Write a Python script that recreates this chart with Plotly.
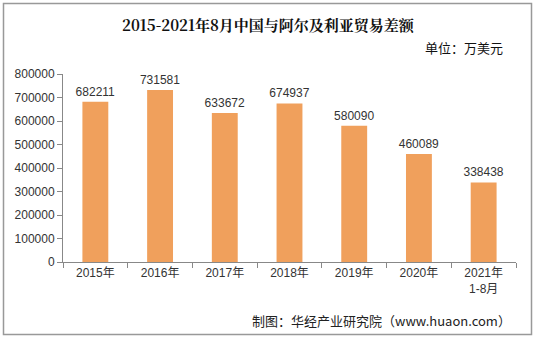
import plotly.graph_objects as go

categories = ["2015年", "2016年", "2017年", "2018年", "2019年", "2020年", "2021年<br>1-8月"]
values = [682211, 731581, 633672, 674937, 580090, 460089, 338438]
y_ticks = [0, 100000, 200000, 300000, 400000, 500000, 600000, 700000, 800000]

W, H = 535, 338
L, R, T, B = 63, 19, 74, 76
pw, ph = W - L - R, H - T - B

def px(x):
    return (x - L) / pw

def py(y):
    return (H - B - y) / ph

fig = go.Figure(go.Bar(
    x=categories, y=values,
    marker=dict(color="#F0A05C", line=dict(width=0)),
    width=0.4,
    text=[str(v) for v in values], textposition="outside",
    constraintext="none",
    textfont=dict(size=12, color="#333333", family="Liberation Sans, Arial"),
    cliponaxis=False,
))

fig.update_layout(
    width=W, height=H,
    margin=dict(l=L, r=R, t=T, b=B),
    paper_bgcolor="white", plot_bgcolor="white",
    showlegend=False,
    font=dict(family="Liberation Sans, Noto Sans CJK SC", size=12, color="#333333"),
    xaxis=dict(
        showline=True, linecolor="#888888", linewidth=1,
        ticks="outside", ticklen=5, tickcolor="#888888",
        tickson="boundaries", showgrid=False,
        tickfont=dict(size=12, color="#333333", family="Liberation Sans, Noto Sans CJK SC"),
    ),
    yaxis=dict(
        range=[0, 800000], tickvals=y_ticks, ticktext=[str(v) for v in y_ticks],
        showline=True, linecolor="#888888", linewidth=1,
        ticks="outside", ticklen=5, tickcolor="#888888",
        showgrid=False, zeroline=False,
        tickfont=dict(size=12, color="#333333", family="Liberation Sans, Arial"),
    ),
    shapes=[dict(type="rect", xref="paper", yref="paper",
                 x0=px(3.5), x1=px(531.5), y0=py(3.5), y1=py(334.5),
                 line=dict(color="#999999", width=1.5), fillcolor="rgba(0,0,0,0)", layer="below")],
    annotations=[
        dict(text="<b>2015-2021年8月中国与阿尔及利亚贸易差额</b>", xref="paper", yref="paper",
             x=px(268), y=py(24), showarrow=False, xanchor="center", yanchor="middle",
             font=dict(size=15, color="#111111", family="Noto Serif CJK SC, Noto Sans CJK SC")),
        dict(text="单位：万美元", xref="paper", yref="paper",
             x=px(505), y=py(48), showarrow=False, xanchor="right", yanchor="middle",
             font=dict(size=13, color="#111111", family="Noto Sans CJK SC")),
        dict(text="制图：华经产业研究院（www.huaon.com）", xref="paper", yref="paper",
             x=px(250), y=py(320), showarrow=False, xanchor="left", yanchor="middle",
             font=dict(size=13, color="#222222", family="Noto Sans CJK SC")),
    ],
)

fig.write_html("out.html")
